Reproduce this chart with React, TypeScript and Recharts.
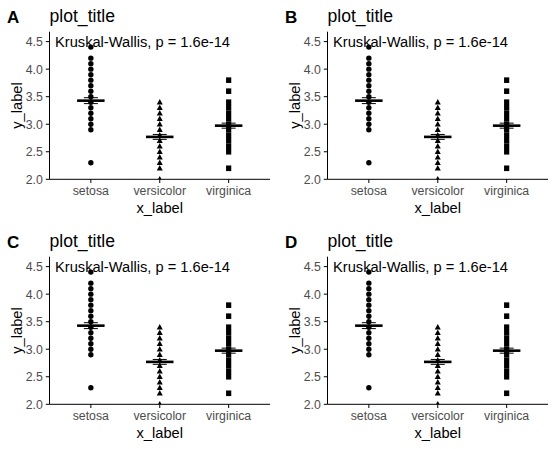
import { ComposedChart, Scatter, XAxis, YAxis, ErrorBar } from 'recharts';

const categories = ['setosa', 'versicolor', 'virginica'];
// distinct values visible per group (duplicates overlap at the same spot)
const setosaValues = [2.3, 2.9, 3.0, 3.1, 3.2, 3.3, 3.4, 3.5, 3.6, 3.7, 3.8, 3.9, 4.0, 4.1, 4.2, 4.4];
const versicolorValues = [2.0, 2.2, 2.3, 2.4, 2.5, 2.6, 2.7, 2.8, 2.9, 3.0, 3.1, 3.2, 3.3, 3.4];
const virginicaValues = [2.2, 2.5, 2.6, 2.7, 2.8, 2.9, 3.0, 3.1, 3.2, 3.3, 3.4, 3.6, 3.8];
const groupMeans = [3.428, 2.77, 2.974];
const groupSe = [0.0536, 0.0444, 0.0456];
const yTicks = [2.0, 2.5, 3.0, 3.5, 4.0, 4.5];
const panelLabels = ['A', 'B', 'C', 'D'];

const FONT = '"Liberation Sans", Arial, sans-serif';
const PW = 278;
const PH = 225;

const toPoints = (values: number[], pos: number) => values.map((y) => ({ x: pos, y }));
const meanData = groupMeans.map((m, i) => ({ x: i + 1, y: m, se: groupSe[i] }));

const Dot = (p: any) => <circle cx={p.cx} cy={p.cy} r={2.7} fill="#000" />;
const Tri = (p: any) => (
  <polygon
    points={`${p.cx},${p.cy - 3.2} ${p.cx - 3},${p.cy + 2.3} ${p.cx + 3},${p.cy + 2.3}`}
    fill="#000"
  />
);
const Sq = (p: any) => <rect x={p.cx - 2.6} y={p.cy - 2.8} width={5.2} height={5.6} fill="#000" />;
const Crossbar = (p: any) => <rect x={p.cx - 13.75} y={p.cy - 1.3} width={27.5} height={2.6} fill="#000" />;

const tickStyle = { fill: '#4D4D4D', fontSize: 12.3, fontFamily: FONT };

function Panel({ label, left, top }: { label: string; left: number; top: number }) {
  return (
    <div style={{ position: 'absolute', left, top, width: PW, height: PH }}>
      <ComposedChart width={PW} height={PH} margin={{ top: 31.7, right: 8, left: 9.5, bottom: 15.7 }}>
        <XAxis
          type="number"
          dataKey="x"
          domain={[0.4, 3.6]}
          ticks={[1, 2, 3]}
          allowDataOverflow
          tickFormatter={(v: number) => categories[v - 1]}
          height={30}
          stroke="#000"
          tickSize={3.7}
          tickMargin={3.5}
          tick={tickStyle}
        />
        <YAxis
          type="number"
          dataKey="y"
          domain={[2, 4.68]}
          ticks={yTicks}
          allowDataOverflow
          tickFormatter={(v: number) => v.toFixed(1)}
          width={40}
          stroke="#000"
          tickSize={3.7}
          tickMargin={3}
          tick={tickStyle}
        />
        <Scatter data={toPoints(setosaValues, 1)} dataKey="y" shape={Dot} isAnimationActive={false} />
        <Scatter data={toPoints(versicolorValues, 2)} dataKey="y" shape={Tri} isAnimationActive={false} />
        <Scatter data={toPoints(virginicaValues, 3)} dataKey="y" shape={Sq} isAnimationActive={false} />
        <Scatter data={meanData} dataKey="y" shape={Crossbar} isAnimationActive={false}>
          <ErrorBar dataKey="se" direction="y" width={7} stroke="#000" strokeWidth={1} />
        </Scatter>
      </ComposedChart>
      <svg
        width={PW}
        height={PH}
        style={{ position: 'absolute', left: 0, top: 0, pointerEvents: 'none' }}
        fontFamily={FONT}
      >
        <text x={7} y={22.5} fontSize={17} fontWeight="bold" fill="#000">{label}</text>
        <text x={49.5} y={22} fontSize={17.6} fill="#000">plot_title</text>
        <text x={55} y={46.5} fontSize={14.67} fill="#000">Kruskal-Wallis, p = 1.6e-14</text>
        <text x={159.75} y={213} fontSize={14.67} textAnchor="middle" fill="#000">x_label</text>
        <text
          x={0}
          y={0}
          fontSize={14.67}
          textAnchor="middle"
          fill="#000"
          transform="translate(21.5,105.5) rotate(-90)"
        >
          y_label
        </text>
      </svg>
    </div>
  );
}

export default function App() {
  return (
    <div style={{ position: 'absolute', left: 0, top: 0, width: 556, height: 449, background: '#fff' }}>
      {panelLabels.map((l, i) => (
        <Panel key={l} label={l} left={(i % 2) * 277.5} top={Math.floor(i / 2) * 224.5} />
      ))}
    </div>
  );
}
